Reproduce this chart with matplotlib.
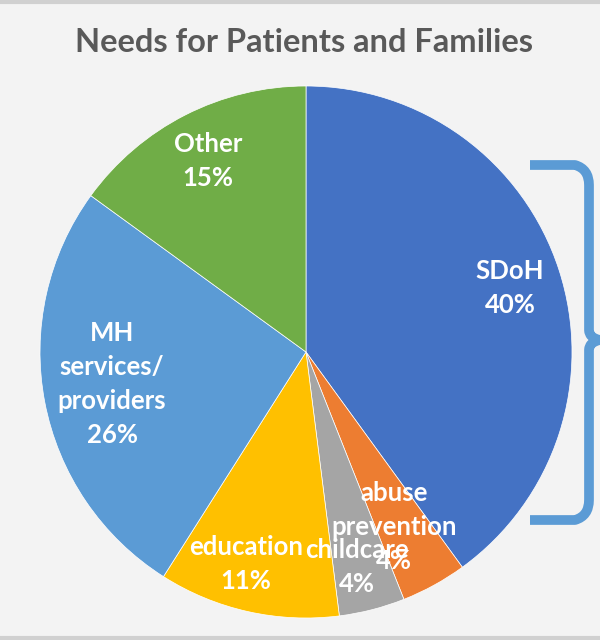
import matplotlib.pyplot as plt
from matplotlib.path import Path
from matplotlib.patches import PathPatch

categories = ['SDoH', 'abuse\nprevention', 'childcare', 'education', 'MH\nservices/\nproviders', 'Other']
values = [40, 4, 4, 11, 26, 15]
colors = ['#4472C4', '#ED7D31', '#A5A5A5', '#FFC000', '#5B9BD5', '#70AD47']

# label centres in pixel coords (x, y from top)
label_pos = [(510, 288), (394, 527), (357, 567), (246, 564), (112, 384), (208, 161)]

fig = plt.figure(figsize=(6, 6.4), dpi=100)
fig.patch.set_facecolor('#f3f3f3')
ax = fig.add_axes([0, 0, 1, 1])

# frame lines at top and bottom
ax.plot([0, 600], [638, 638], color='#d0d0d0', lw=3)
ax.plot([0, 600], [2, 2], color='#d0d0d0', lw=3)

cx, cy, r = 306, 640 - 352, 266
ax.pie(values, colors=colors, startangle=90, counterclock=False,
       center=(cx, cy), radius=r, frame=True,
       wedgeprops=dict(linewidth=0.5, edgecolor='white'))
ax.set_xlim(0, 600)
ax.set_ylim(0, 640)
ax.set_aspect('equal')
ax.axis('off')

for cat, val, (x, y) in zip(categories, values, label_pos):
    ax.text(x, 640 - y, f'{cat}\n{val}%', ha='center', va='center',
            color='white', fontsize=18.5, fontweight='bold', family='Lato',
            linespacing=1.5)

ax.text(304, 640 - 42, 'Needs for Patients and Families', ha='center', va='center',
        color='#595959', fontsize=23.5, fontweight='bold', family='Lato')

# curly brace on the right
bx, top, bot, mid = 589, 640 - 165, 640 - 520, 640 - 340
verts = [(530, top), (575, top), (bx, top - 4), (bx, top - 20),
         (bx, mid + 10), (bx, mid + 2), (600, mid),
         (bx, mid - 2), (bx, mid - 10),
         (bx, bot + 20), (bx, bot + 4), (575, bot), (530, bot)]
codes = [Path.MOVETO, Path.LINETO, Path.CURVE3, Path.CURVE3,
         Path.LINETO, Path.CURVE3, Path.CURVE3,
         Path.CURVE3, Path.CURVE3,
         Path.LINETO, Path.CURVE3, Path.CURVE3, Path.LINETO]
ax.add_patch(PathPatch(Path(verts, codes), fill=False, edgecolor='#5B9BD5', lw=7,
                       capstyle='butt', joinstyle='round'))

fig.savefig('out.png', dpi=100, facecolor=fig.get_facecolor())
